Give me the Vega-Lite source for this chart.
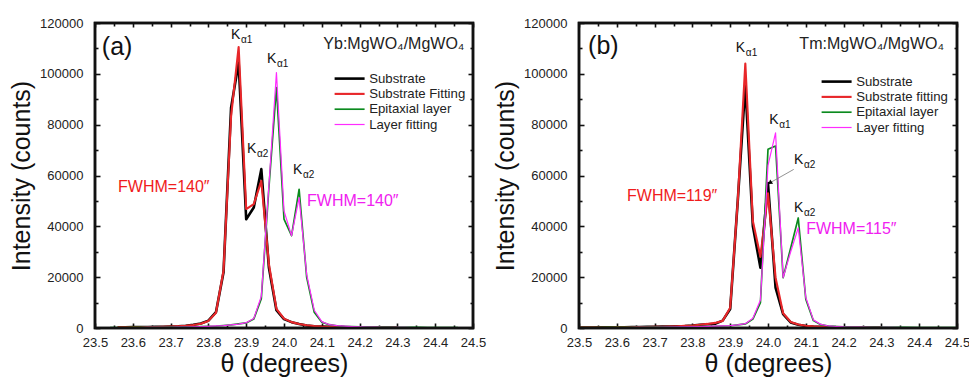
{
  "$schema": "https://vega.github.io/schema/vega-lite/v6.json",
  "padding": {"left": 8, "top": 15, "right": 5, "bottom": 0},
  "background": "white",
  "config": {
    "font": "Liberation Sans",
    "view": {"stroke": "#111", "strokeWidth": 2.4},
    "axis": {
      "grid": false, "domain": false,
      "labelFont": "Liberation Sans", "labelFontSize": 13, "labelColor": "#222",
      "titleFont": "Liberation Sans", "titleFontSize": 25, "titleFontWeight": "normal", "titleColor": "#111",
      "tickColor": "#111", "tickWidth": 1.6
    },
    "legend": {"labelFont": "Liberation Sans", "labelFontSize": 13.2, "labelColor": "#222"}
  },
  "datasets": {
    "a": [
      {"series":"Substrate","theta":23.56,"counts":300},{"series":"Substrate","theta":23.58,"counts":300},{"series":"Substrate","theta":23.60,"counts":350},{"series":"Substrate","theta":23.62,"counts":350},{"series":"Substrate","theta":23.64,"counts":400},{"series":"Substrate","theta":23.66,"counts":450},{"series":"Substrate","theta":23.68,"counts":500},{"series":"Substrate","theta":23.70,"counts":600},{"series":"Substrate","theta":23.72,"counts":700},{"series":"Substrate","theta":23.74,"counts":900},{"series":"Substrate","theta":23.76,"counts":1300},{"series":"Substrate","theta":23.78,"counts":1800},{"series":"Substrate","theta":23.80,"counts":2900},{"series":"Substrate","theta":23.82,"counts":6200},{"series":"Substrate","theta":23.84,"counts":21900},{"series":"Substrate","theta":23.86,"counts":86700},{"series":"Substrate","theta":23.88,"counts":104400},{"series":"Substrate","theta":23.90,"counts":42800},{"series":"Substrate","theta":23.92,"counts":47400},{"series":"Substrate","theta":23.94,"counts":62500},{"series":"Substrate","theta":23.96,"counts":23800},{"series":"Substrate","theta":23.98,"counts":7000},{"series":"Substrate","theta":24.00,"counts":3500},{"series":"Substrate","theta":24.02,"counts":2300},{"series":"Substrate","theta":24.04,"counts":1600},{"series":"Substrate","theta":24.06,"counts":1000},{"series":"Substrate","theta":24.08,"counts":700},{"series":"Substrate","theta":24.10,"counts":550},{"series":"Substrate","theta":24.12,"counts":450},{"series":"Substrate","theta":24.14,"counts":400},{"series":"Substrate","theta":24.16,"counts":350},{"series":"Substrate","theta":24.18,"counts":300},{"series":"Substrate","theta":24.20,"counts":300},{"series":"Substrate","theta":24.22,"counts":250},{"series":"Substrate","theta":24.24,"counts":250},{"series":"Substrate","theta":24.26,"counts":200},{"series":"Substrate","theta":24.28,"counts":200},{"series":"Substrate","theta":24.30,"counts":200},
      {"series":"Substrate Fitting","theta":23.56,"counts":250},{"series":"Substrate Fitting","theta":23.58,"counts":250},{"series":"Substrate Fitting","theta":23.60,"counts":300},{"series":"Substrate Fitting","theta":23.62,"counts":300},{"series":"Substrate Fitting","theta":23.64,"counts":350},{"series":"Substrate Fitting","theta":23.66,"counts":400},{"series":"Substrate Fitting","theta":23.68,"counts":450},{"series":"Substrate Fitting","theta":23.70,"counts":550},{"series":"Substrate Fitting","theta":23.72,"counts":700},{"series":"Substrate Fitting","theta":23.74,"counts":900},{"series":"Substrate Fitting","theta":23.76,"counts":1200},{"series":"Substrate Fitting","theta":23.78,"counts":1700},{"series":"Substrate Fitting","theta":23.80,"counts":2800},{"series":"Substrate Fitting","theta":23.82,"counts":6000},{"series":"Substrate Fitting","theta":23.84,"counts":22500},{"series":"Substrate Fitting","theta":23.86,"counts":83400},{"series":"Substrate Fitting","theta":23.88,"counts":110500},{"series":"Substrate Fitting","theta":23.90,"counts":46800},{"series":"Substrate Fitting","theta":23.92,"counts":48700},{"series":"Substrate Fitting","theta":23.94,"counts":57900},{"series":"Substrate Fitting","theta":23.96,"counts":25200},{"series":"Substrate Fitting","theta":23.98,"counts":7500},{"series":"Substrate Fitting","theta":24.00,"counts":3700},{"series":"Substrate Fitting","theta":24.02,"counts":2300},{"series":"Substrate Fitting","theta":24.04,"counts":1600},{"series":"Substrate Fitting","theta":24.06,"counts":1100},{"series":"Substrate Fitting","theta":24.08,"counts":800},{"series":"Substrate Fitting","theta":24.10,"counts":600},{"series":"Substrate Fitting","theta":24.12,"counts":500},{"series":"Substrate Fitting","theta":24.14,"counts":400},{"series":"Substrate Fitting","theta":24.16,"counts":350},{"series":"Substrate Fitting","theta":24.18,"counts":300},{"series":"Substrate Fitting","theta":24.20,"counts":250},{"series":"Substrate Fitting","theta":24.22,"counts":250},{"series":"Substrate Fitting","theta":24.24,"counts":200},{"series":"Substrate Fitting","theta":24.26,"counts":200},{"series":"Substrate Fitting","theta":24.28,"counts":200},{"series":"Substrate Fitting","theta":24.30,"counts":200},
      {"series":"Epitaxial layer","theta":23.54,"counts":200},{"series":"Epitaxial layer","theta":23.56,"counts":200},{"series":"Epitaxial layer","theta":23.58,"counts":200},{"series":"Epitaxial layer","theta":23.60,"counts":250},{"series":"Epitaxial layer","theta":23.62,"counts":250},{"series":"Epitaxial layer","theta":23.64,"counts":250},{"series":"Epitaxial layer","theta":23.66,"counts":300},{"series":"Epitaxial layer","theta":23.68,"counts":300},{"series":"Epitaxial layer","theta":23.70,"counts":350},{"series":"Epitaxial layer","theta":23.72,"counts":400},{"series":"Epitaxial layer","theta":23.74,"counts":450},{"series":"Epitaxial layer","theta":23.76,"counts":500},{"series":"Epitaxial layer","theta":23.78,"counts":600},{"series":"Epitaxial layer","theta":23.80,"counts":700},{"series":"Epitaxial layer","theta":23.82,"counts":800},{"series":"Epitaxial layer","theta":23.84,"counts":1000},{"series":"Epitaxial layer","theta":23.86,"counts":1200},{"series":"Epitaxial layer","theta":23.88,"counts":1600},{"series":"Epitaxial layer","theta":23.90,"counts":2000},{"series":"Epitaxial layer","theta":23.92,"counts":3500},{"series":"Epitaxial layer","theta":23.94,"counts":11500},{"series":"Epitaxial layer","theta":23.96,"counts":55000},{"series":"Epitaxial layer","theta":23.98,"counts":94600},{"series":"Epitaxial layer","theta":24.00,"counts":42800},{"series":"Epitaxial layer","theta":24.02,"counts":36300},{"series":"Epitaxial layer","theta":24.04,"counts":54600},{"series":"Epitaxial layer","theta":24.06,"counts":19900},{"series":"Epitaxial layer","theta":24.08,"counts":6200},{"series":"Epitaxial layer","theta":24.10,"counts":2300},{"series":"Epitaxial layer","theta":24.12,"counts":1300},{"series":"Epitaxial layer","theta":24.14,"counts":900},{"series":"Epitaxial layer","theta":24.16,"counts":700},{"series":"Epitaxial layer","theta":24.18,"counts":600},{"series":"Epitaxial layer","theta":24.20,"counts":500},{"series":"Epitaxial layer","theta":24.22,"counts":450},{"series":"Epitaxial layer","theta":24.24,"counts":400},{"series":"Epitaxial layer","theta":24.26,"counts":350},{"series":"Epitaxial layer","theta":24.28,"counts":350},{"series":"Epitaxial layer","theta":24.30,"counts":300},{"series":"Epitaxial layer","theta":24.32,"counts":300},{"series":"Epitaxial layer","theta":24.34,"counts":250},{"series":"Epitaxial layer","theta":24.36,"counts":250},{"series":"Epitaxial layer","theta":24.38,"counts":200},{"series":"Epitaxial layer","theta":24.40,"counts":200},{"series":"Epitaxial layer","theta":24.42,"counts":200},{"series":"Epitaxial layer","theta":24.44,"counts":200},{"series":"Epitaxial layer","theta":24.46,"counts":200},
      {"series":"Layer fitting","theta":23.54,"counts":150},{"series":"Layer fitting","theta":23.56,"counts":150},{"series":"Layer fitting","theta":23.58,"counts":200},{"series":"Layer fitting","theta":23.60,"counts":200},{"series":"Layer fitting","theta":23.62,"counts":200},{"series":"Layer fitting","theta":23.64,"counts":250},{"series":"Layer fitting","theta":23.66,"counts":250},{"series":"Layer fitting","theta":23.68,"counts":300},{"series":"Layer fitting","theta":23.70,"counts":300},{"series":"Layer fitting","theta":23.72,"counts":350},{"series":"Layer fitting","theta":23.74,"counts":400},{"series":"Layer fitting","theta":23.76,"counts":500},{"series":"Layer fitting","theta":23.78,"counts":550},{"series":"Layer fitting","theta":23.80,"counts":650},{"series":"Layer fitting","theta":23.82,"counts":800},{"series":"Layer fitting","theta":23.84,"counts":950},{"series":"Layer fitting","theta":23.86,"counts":1200},{"series":"Layer fitting","theta":23.88,"counts":1500},{"series":"Layer fitting","theta":23.90,"counts":2100},{"series":"Layer fitting","theta":23.92,"counts":3700},{"series":"Layer fitting","theta":23.94,"counts":12500},{"series":"Layer fitting","theta":23.96,"counts":56000},{"series":"Layer fitting","theta":23.98,"counts":100500},{"series":"Layer fitting","theta":24.00,"counts":46100},{"series":"Layer fitting","theta":24.02,"counts":36300},{"series":"Layer fitting","theta":24.04,"counts":51300},{"series":"Layer fitting","theta":24.06,"counts":21000},{"series":"Layer fitting","theta":24.08,"counts":7000},{"series":"Layer fitting","theta":24.10,"counts":2500},{"series":"Layer fitting","theta":24.12,"counts":1300},{"series":"Layer fitting","theta":24.14,"counts":900},{"series":"Layer fitting","theta":24.16,"counts":700},{"series":"Layer fitting","theta":24.18,"counts":550},{"series":"Layer fitting","theta":24.20,"counts":450},{"series":"Layer fitting","theta":24.22,"counts":400},{"series":"Layer fitting","theta":24.24,"counts":350},{"series":"Layer fitting","theta":24.26,"counts":300},{"series":"Layer fitting","theta":24.28,"counts":300},{"series":"Layer fitting","theta":24.30,"counts":250},{"series":"Layer fitting","theta":24.32,"counts":250},{"series":"Layer fitting","theta":24.34,"counts":200},{"series":"Layer fitting","theta":24.36,"counts":200},{"series":"Layer fitting","theta":24.38,"counts":200},{"series":"Layer fitting","theta":24.40,"counts":150},{"series":"Layer fitting","theta":24.42,"counts":150},{"series":"Layer fitting","theta":24.44,"counts":150},{"series":"Layer fitting","theta":24.46,"counts":150}
    ],
    "b": [
      {"series":"Substrate","theta":23.50,"counts":200},{"series":"Substrate","theta":23.52,"counts":200},{"series":"Substrate","theta":23.54,"counts":200},{"series":"Substrate","theta":23.56,"counts":250},{"series":"Substrate","theta":23.58,"counts":250},{"series":"Substrate","theta":23.60,"counts":300},{"series":"Substrate","theta":23.62,"counts":300},{"series":"Substrate","theta":23.64,"counts":350},{"series":"Substrate","theta":23.66,"counts":400},{"series":"Substrate","theta":23.68,"counts":450},{"series":"Substrate","theta":23.70,"counts":500},{"series":"Substrate","theta":23.72,"counts":550},{"series":"Substrate","theta":23.74,"counts":600},{"series":"Substrate","theta":23.76,"counts":700},{"series":"Substrate","theta":23.78,"counts":800},{"series":"Substrate","theta":23.80,"counts":1000},{"series":"Substrate","theta":23.82,"counts":1300},{"series":"Substrate","theta":23.84,"counts":1500},{"series":"Substrate","theta":23.86,"counts":1700},{"series":"Substrate","theta":23.88,"counts":2900},{"series":"Substrate","theta":23.90,"counts":7500},{"series":"Substrate","theta":23.92,"counts":50000},{"series":"Substrate","theta":23.94,"counts":95500},{"series":"Substrate","theta":23.96,"counts":40000},{"series":"Substrate","theta":23.98,"counts":23700},{"series":"Substrate","theta":24.00,"counts":57000},{"series":"Substrate","theta":24.02,"counts":15900},{"series":"Substrate","theta":24.04,"counts":5500},{"series":"Substrate","theta":24.06,"counts":2200},{"series":"Substrate","theta":24.08,"counts":1300},{"series":"Substrate","theta":24.10,"counts":800},{"series":"Substrate","theta":24.12,"counts":600},{"series":"Substrate","theta":24.14,"counts":500},{"series":"Substrate","theta":24.16,"counts":400},{"series":"Substrate","theta":24.18,"counts":350},{"series":"Substrate","theta":24.20,"counts":300},{"series":"Substrate","theta":24.22,"counts":300},{"series":"Substrate","theta":24.24,"counts":250},{"series":"Substrate","theta":24.26,"counts":250},{"series":"Substrate","theta":24.28,"counts":200},{"series":"Substrate","theta":24.30,"counts":200},
      {"series":"Substrate fitting","theta":23.50,"counts":150},{"series":"Substrate fitting","theta":23.52,"counts":150},{"series":"Substrate fitting","theta":23.54,"counts":150},{"series":"Substrate fitting","theta":23.56,"counts":200},{"series":"Substrate fitting","theta":23.58,"counts":200},{"series":"Substrate fitting","theta":23.60,"counts":250},{"series":"Substrate fitting","theta":23.62,"counts":250},{"series":"Substrate fitting","theta":23.64,"counts":300},{"series":"Substrate fitting","theta":23.66,"counts":350},{"series":"Substrate fitting","theta":23.68,"counts":400},{"series":"Substrate fitting","theta":23.70,"counts":450},{"series":"Substrate fitting","theta":23.72,"counts":500},{"series":"Substrate fitting","theta":23.74,"counts":600},{"series":"Substrate fitting","theta":23.76,"counts":700},{"series":"Substrate fitting","theta":23.78,"counts":850},{"series":"Substrate fitting","theta":23.80,"counts":1000},{"series":"Substrate fitting","theta":23.82,"counts":1300},{"series":"Substrate fitting","theta":23.84,"counts":1600},{"series":"Substrate fitting","theta":23.86,"counts":2000},{"series":"Substrate fitting","theta":23.88,"counts":2800},{"series":"Substrate fitting","theta":23.90,"counts":8000},{"series":"Substrate fitting","theta":23.92,"counts":50000},{"series":"Substrate fitting","theta":23.94,"counts":104000},{"series":"Substrate fitting","theta":23.96,"counts":42000},{"series":"Substrate fitting","theta":23.98,"counts":28000},{"series":"Substrate fitting","theta":24.00,"counts":53000},{"series":"Substrate fitting","theta":24.02,"counts":19800},{"series":"Substrate fitting","theta":24.04,"counts":5800},{"series":"Substrate fitting","theta":24.06,"counts":2400},{"series":"Substrate fitting","theta":24.08,"counts":1400},{"series":"Substrate fitting","theta":24.10,"counts":900},{"series":"Substrate fitting","theta":24.12,"counts":650},{"series":"Substrate fitting","theta":24.14,"counts":500},{"series":"Substrate fitting","theta":24.16,"counts":400},{"series":"Substrate fitting","theta":24.18,"counts":350},{"series":"Substrate fitting","theta":24.20,"counts":300},{"series":"Substrate fitting","theta":24.22,"counts":250},{"series":"Substrate fitting","theta":24.24,"counts":250},{"series":"Substrate fitting","theta":24.26,"counts":200},{"series":"Substrate fitting","theta":24.28,"counts":200},{"series":"Substrate fitting","theta":24.30,"counts":200},
      {"series":"Epitaxial layer","theta":23.50,"counts":200},{"series":"Epitaxial layer","theta":23.54,"counts":200},{"series":"Epitaxial layer","theta":23.58,"counts":250},{"series":"Epitaxial layer","theta":23.62,"counts":250},{"series":"Epitaxial layer","theta":23.66,"counts":300},{"series":"Epitaxial layer","theta":23.70,"counts":350},{"series":"Epitaxial layer","theta":23.74,"counts":400},{"series":"Epitaxial layer","theta":23.78,"counts":500},{"series":"Epitaxial layer","theta":23.82,"counts":600},{"series":"Epitaxial layer","theta":23.86,"counts":700},{"series":"Epitaxial layer","theta":23.88,"counts":800},{"series":"Epitaxial layer","theta":23.90,"counts":900},{"series":"Epitaxial layer","theta":23.92,"counts":1200},{"series":"Epitaxial layer","theta":23.94,"counts":1600},{"series":"Epitaxial layer","theta":23.96,"counts":3500},{"series":"Epitaxial layer","theta":23.98,"counts":10000},{"series":"Epitaxial layer","theta":24.00,"counts":70300},{"series":"Epitaxial layer","theta":24.02,"counts":71600},{"series":"Epitaxial layer","theta":24.04,"counts":19800},{"series":"Epitaxial layer","theta":24.06,"counts":31500},{"series":"Epitaxial layer","theta":24.08,"counts":43300},{"series":"Epitaxial layer","theta":24.10,"counts":11300},{"series":"Epitaxial layer","theta":24.12,"counts":2900},{"series":"Epitaxial layer","theta":24.14,"counts":1300},{"series":"Epitaxial layer","theta":24.16,"counts":800},{"series":"Epitaxial layer","theta":24.18,"counts":600},{"series":"Epitaxial layer","theta":24.20,"counts":500},{"series":"Epitaxial layer","theta":24.24,"counts":400},{"series":"Epitaxial layer","theta":24.28,"counts":350},{"series":"Epitaxial layer","theta":24.32,"counts":300},{"series":"Epitaxial layer","theta":24.36,"counts":250},{"series":"Epitaxial layer","theta":24.40,"counts":200},{"series":"Epitaxial layer","theta":24.45,"counts":200},{"series":"Epitaxial layer","theta":24.50,"counts":200},
      {"series":"Layer fitting","theta":23.50,"counts":150},{"series":"Layer fitting","theta":23.54,"counts":150},{"series":"Layer fitting","theta":23.58,"counts":200},{"series":"Layer fitting","theta":23.62,"counts":200},{"series":"Layer fitting","theta":23.66,"counts":250},{"series":"Layer fitting","theta":23.70,"counts":300},{"series":"Layer fitting","theta":23.74,"counts":350},{"series":"Layer fitting","theta":23.78,"counts":450},{"series":"Layer fitting","theta":23.82,"counts":550},{"series":"Layer fitting","theta":23.86,"counts":700},{"series":"Layer fitting","theta":23.88,"counts":800},{"series":"Layer fitting","theta":23.90,"counts":950},{"series":"Layer fitting","theta":23.92,"counts":1200},{"series":"Layer fitting","theta":23.94,"counts":1700},{"series":"Layer fitting","theta":23.96,"counts":3800},{"series":"Layer fitting","theta":23.98,"counts":11000},{"series":"Layer fitting","theta":24.00,"counts":64000},{"series":"Layer fitting","theta":24.02,"counts":76800},{"series":"Layer fitting","theta":24.04,"counts":19800},{"series":"Layer fitting","theta":24.06,"counts":30000},{"series":"Layer fitting","theta":24.08,"counts":39400},{"series":"Layer fitting","theta":24.10,"counts":12000},{"series":"Layer fitting","theta":24.12,"counts":3200},{"series":"Layer fitting","theta":24.14,"counts":1400},{"series":"Layer fitting","theta":24.16,"counts":800},{"series":"Layer fitting","theta":24.18,"counts":600},{"series":"Layer fitting","theta":24.20,"counts":450},{"series":"Layer fitting","theta":24.24,"counts":350},{"series":"Layer fitting","theta":24.28,"counts":300},{"series":"Layer fitting","theta":24.32,"counts":250},{"series":"Layer fitting","theta":24.36,"counts":200},{"series":"Layer fitting","theta":24.40,"counts":150},{"series":"Layer fitting","theta":24.45,"counts":150},{"series":"Layer fitting","theta":24.50,"counts":150}
    ],
    "kA": [
      {"theta":23.860,"counts":113700,"sub":"α1"},
      {"theta":23.955,"counts":104300,"sub":"α1"},
      {"theta":23.902,"counts":68900,"sub":"α2"},
      {"theta":24.024,"counts":60600,"sub":"α2"}
    ],
    "kB": [
      {"theta":23.915,"counts":108700,"sub":"α1"},
      {"theta":24.003,"counts":80300,"sub":"α1"},
      {"theta":24.069,"counts":64500,"sub":"α2"},
      {"theta":24.069,"counts":45600,"sub":"α2"}
    ],
    "redA": [{"theta":23.561,"counts":53500,"label":"FWHM=140″"}],
    "magA": [{"theta":24.061,"counts":48000,"label":"FWHM=140″"}],
    "redB": [{"theta":23.627,"counts":50000,"label":"FWHM=119″"}],
    "magB": [{"theta":24.101,"counts":37000,"label":"FWHM=115″"}],
    "tagA": [{"theta":23.518,"counts":107400,"label":"(a)"}],
    "tagB": [{"theta":23.524,"counts":107800,"label":"(b)"}],
    "matA": [{"theta":24.104,"counts":109800,"label":"Yb:MgWO₄/MgWO₄"}],
    "matB": [{"theta":24.083,"counts":109600,"label":"Tm:MgWO₄/MgWO₄"}],
    "arrowB": [{"theta":24.068,"counts":62400,"theta2":24.005,"counts2":57100}]
  },
  "spacing": 5,
  "hconcat": [
    {
      "width": 378, "height": 305,
      "resolve": {"axis": {"x": "independent", "y": "independent"}},
      "layer": [
        {
          "data": {"name": "a"},
          "mark": {"type": "line", "strokeJoin": "round"},
          "encoding": {
            "x": {"field": "theta", "type": "quantitative", "scale": {"domain": [23.5, 24.5], "nice": false, "zero": false},
              "axis": {"orient": "bottom", "title": "θ (degrees)", "titlePadding": 2, "values": [23.5,23.6,23.7,23.8,23.9,24.0,24.1,24.2,24.3,24.4,24.5], "format": ".1f", "tickSize": -5, "labelPadding": 13, "labelFlush": false}},
            "y": {"field": "counts", "type": "quantitative", "scale": {"domain": [0, 120000], "nice": false},
              "axis": {"orient": "left", "title": "Intensity (counts)", "titlePadding": 5, "values": [0,20000,40000,60000,80000,100000,120000], "format": "d", "tickSize": -5, "labelPadding": 17, "labelFlush": false}},
            "color": {"field": "series", "type": "nominal",
              "scale": {"domain": ["Substrate","Substrate Fitting","Epitaxial layer","Layer fitting"], "range": ["#000000","#e8272a","#0b8a1e","#ff2cff"]},
              "legend": {"title": null, "orient": "none", "legendX": 248, "legendY": 49, "symbolType": "M-3,0H3", "symbolSize": 100, "rowPadding": 1.3, "labelOffset": 13, "padding": 0}},
            "strokeWidth": {"field": "series", "type": "nominal",
              "scale": {"domain": ["Substrate","Substrate Fitting","Epitaxial layer","Layer fitting"], "range": [2.6, 1.2, 2.4, 1.2]},
              "legend": {"title": null, "orient": "none", "legendX": 248, "legendY": 49, "symbolType": "M-3,0H3", "symbolSize": 100, "rowPadding": 1.3, "labelOffset": 13, "padding": 0}}
          }
        },
        {
          "data": {"name": "tagA"},
          "mark": {"type": "rect", "filled": false, "stroke": "#111", "strokeWidth": 2.6},
          "encoding": {"x": {"datum": 23.5, "type": "quantitative", "axis": null}, "x2": {"datum": 24.5}, "y": {"datum": 0, "type": "quantitative", "axis": null}, "y2": {"datum": 120000}}
        },
        {
          "data": {"name": "kA"},
          "mark": {"type": "text", "align": "left", "baseline": "alphabetic", "fontSize": 14, "color": "#111"},
          "encoding": {
            "x": {"field": "theta", "type": "quantitative", "axis": {"orient": "top", "title": null, "labels": false, "values": [23.5,23.6,23.7,23.8,23.9,24.0,24.1,24.2,24.3,24.4,24.5], "tickSize": -4}},
            "y": {"field": "counts", "type": "quantitative", "axis": {"orient": "right", "title": null, "labels": false, "values": [0,20000,40000,60000,80000,100000,120000], "tickSize": -5}},
            "text": {"value": "K"}
          }
        },
        {
          "data": {"name": "kA"},
          "mark": {"type": "text", "align": "left", "baseline": "alphabetic", "fontSize": 10, "dx": 10, "dy": 4, "color": "#111"},
          "encoding": {
            "x": {"field": "theta", "type": "quantitative", "axis": {"orient": "bottom", "title": null, "labels": false, "offset": -3, "values": [23.55,23.65,23.75,23.85,23.95,24.05,24.15,24.25,24.35,24.45], "tickSize": 3}},
            "y": {"field": "counts", "type": "quantitative", "axis": {"orient": "left", "title": null, "labels": false, "offset": -3, "values": [10000,30000,50000,70000,90000,110000], "tickSize": 3}},
            "text": {"field": "sub"}
          }
        },
        {
          "data": {"name": "redA"},
          "mark": {"type": "text", "align": "left", "baseline": "alphabetic", "fontSize": 16, "color": "#f01c1c"},
          "encoding": {
            "x": {"field": "theta", "type": "quantitative", "axis": {"orient": "top", "title": null, "labels": false, "offset": -3, "values": [23.55,23.65,23.75,23.85,23.95,24.05,24.15,24.25,24.35,24.45], "tickSize": 3}},
            "y": {"field": "counts", "type": "quantitative", "axis": {"orient": "right", "title": null, "labels": false, "offset": -3, "values": [10000,30000,50000,70000,90000,110000], "tickSize": 3}},
            "text": {"field": "label"}
          }
        },
        {
          "data": {"name": "magA"},
          "mark": {"type": "text", "align": "left", "baseline": "alphabetic", "fontSize": 16, "color": "#f020f0"},
          "encoding": {"x": {"field": "theta", "type": "quantitative", "axis": null}, "y": {"field": "counts", "type": "quantitative", "axis": null}, "text": {"field": "label"}}
        },
        {
          "data": {"name": "tagA"},
          "mark": {"type": "text", "align": "left", "baseline": "alphabetic", "fontSize": 25, "color": "#111"},
          "encoding": {"x": {"field": "theta", "type": "quantitative", "axis": null}, "y": {"field": "counts", "type": "quantitative", "axis": null}, "text": {"field": "label"}}
        },
        {
          "data": {"name": "matA"},
          "mark": {"type": "text", "align": "left", "baseline": "alphabetic", "fontSize": 16, "color": "#222"},
          "encoding": {"x": {"field": "theta", "type": "quantitative", "axis": null}, "y": {"field": "counts", "type": "quantitative", "axis": null}, "text": {"field": "label"}}
        }
      ]
    },
    {
      "width": 378, "height": 305,
      "resolve": {"axis": {"x": "independent", "y": "independent"}},
      "layer": [
        {
          "data": {"name": "b"},
          "mark": {"type": "line", "strokeJoin": "round"},
          "encoding": {
            "x": {"field": "theta", "type": "quantitative", "scale": {"domain": [23.5, 24.5], "nice": false, "zero": false},
              "axis": {"orient": "bottom", "title": "θ (degrees)", "titlePadding": 2, "values": [23.5,23.6,23.7,23.8,23.9,24.0,24.1,24.2,24.3,24.4,24.5], "format": ".1f", "tickSize": -5, "labelPadding": 13, "labelFlush": false}},
            "y": {"field": "counts", "type": "quantitative", "scale": {"domain": [0, 120000], "nice": false},
              "axis": {"orient": "left", "title": "Intensity (counts)", "titlePadding": 5, "values": [0,20000,40000,60000,80000,100000,120000], "format": "d", "tickSize": -5, "labelPadding": 17, "labelFlush": false}},
            "color": {"field": "series", "type": "nominal",
              "scale": {"domain": ["Substrate","Substrate fitting","Epitaxial layer","Layer fitting"], "range": ["#000000","#e8272a","#0b8a1e","#ff2cff"]},
              "legend": {"title": null, "orient": "none", "legendX": 251, "legendY": 52, "symbolType": "M-3,0H3", "symbolSize": 100, "rowPadding": 1.3, "labelOffset": 13, "padding": 0}},
            "strokeWidth": {"field": "series", "type": "nominal",
              "scale": {"domain": ["Substrate","Substrate fitting","Epitaxial layer","Layer fitting"], "range": [2.6, 1.2, 2.4, 1.2]},
              "legend": {"title": null, "orient": "none", "legendX": 251, "legendY": 52, "symbolType": "M-3,0H3", "symbolSize": 100, "rowPadding": 1.3, "labelOffset": 13, "padding": 0}}
          }
        },
        {
          "data": {"name": "tagB"},
          "mark": {"type": "rect", "filled": false, "stroke": "#111", "strokeWidth": 2.6},
          "encoding": {"x": {"datum": 23.5, "type": "quantitative", "axis": null}, "x2": {"datum": 24.5}, "y": {"datum": 0, "type": "quantitative", "axis": null}, "y2": {"datum": 120000}}
        },
        {
          "data": {"name": "kB"},
          "mark": {"type": "text", "align": "left", "baseline": "alphabetic", "fontSize": 14, "color": "#111"},
          "encoding": {
            "x": {"field": "theta", "type": "quantitative", "axis": {"orient": "top", "title": null, "labels": false, "values": [23.5,23.6,23.7,23.8,23.9,24.0,24.1,24.2,24.3,24.4,24.5], "tickSize": -4}},
            "y": {"field": "counts", "type": "quantitative", "axis": {"orient": "right", "title": null, "labels": false, "values": [0,20000,40000,60000,80000,100000,120000], "tickSize": -5}},
            "text": {"value": "K"}
          }
        },
        {
          "data": {"name": "kB"},
          "mark": {"type": "text", "align": "left", "baseline": "alphabetic", "fontSize": 10, "dx": 10, "dy": 4, "color": "#111"},
          "encoding": {
            "x": {"field": "theta", "type": "quantitative", "axis": {"orient": "bottom", "title": null, "labels": false, "offset": -3, "values": [23.55,23.65,23.75,23.85,23.95,24.05,24.15,24.25,24.35,24.45], "tickSize": 3}},
            "y": {"field": "counts", "type": "quantitative", "axis": {"orient": "left", "title": null, "labels": false, "offset": -3, "values": [10000,30000,50000,70000,90000,110000], "tickSize": 3}},
            "text": {"field": "sub"}
          }
        },
        {
          "data": {"name": "redB"},
          "mark": {"type": "text", "align": "left", "baseline": "alphabetic", "fontSize": 16, "color": "#f01c1c"},
          "encoding": {
            "x": {"field": "theta", "type": "quantitative", "axis": {"orient": "top", "title": null, "labels": false, "offset": -3, "values": [23.55,23.65,23.75,23.85,23.95,24.05,24.15,24.25,24.35,24.45], "tickSize": 3}},
            "y": {"field": "counts", "type": "quantitative", "axis": {"orient": "right", "title": null, "labels": false, "offset": -3, "values": [10000,30000,50000,70000,90000,110000], "tickSize": 3}},
            "text": {"field": "label"}
          }
        },
        {
          "data": {"name": "arrowB"},
          "mark": {"type": "rule", "color": "#777", "strokeWidth": 0.8},
          "encoding": {"x": {"field": "theta", "type": "quantitative", "axis": null}, "y": {"field": "counts", "type": "quantitative", "axis": null}, "x2": {"field": "theta2"}, "y2": {"field": "counts2"}}
        },
        {
          "data": {"name": "arrowB"},
          "mark": {"type": "point", "shape": "triangle-left", "filled": true, "color": "#000", "size": 25, "opacity": 1, "angle": -35},
          "encoding": {"x": {"field": "theta2", "type": "quantitative", "axis": null}, "y": {"field": "counts2", "type": "quantitative", "axis": null}}
        },
        {
          "data": {"name": "magB"},
          "mark": {"type": "text", "align": "left", "baseline": "alphabetic", "fontSize": 16, "color": "#f020f0"},
          "encoding": {"x": {"field": "theta", "type": "quantitative", "axis": null}, "y": {"field": "counts", "type": "quantitative", "axis": null}, "text": {"field": "label"}}
        },
        {
          "data": {"name": "tagB"},
          "mark": {"type": "text", "align": "left", "baseline": "alphabetic", "fontSize": 25, "color": "#111"},
          "encoding": {"x": {"field": "theta", "type": "quantitative", "axis": null}, "y": {"field": "counts", "type": "quantitative", "axis": null}, "text": {"field": "label"}}
        },
        {
          "data": {"name": "matB"},
          "mark": {"type": "text", "align": "left", "baseline": "alphabetic", "fontSize": 16, "color": "#222"},
          "encoding": {"x": {"field": "theta", "type": "quantitative", "axis": null}, "y": {"field": "counts", "type": "quantitative", "axis": null}, "text": {"field": "label"}}
        }
      ]
    }
  ],
  "resolve": {"scale": {"color": "independent", "strokeWidth": "independent", "x": "independent", "y": "independent"}, "legend": {"color": "independent", "strokeWidth": "independent"}}
}
